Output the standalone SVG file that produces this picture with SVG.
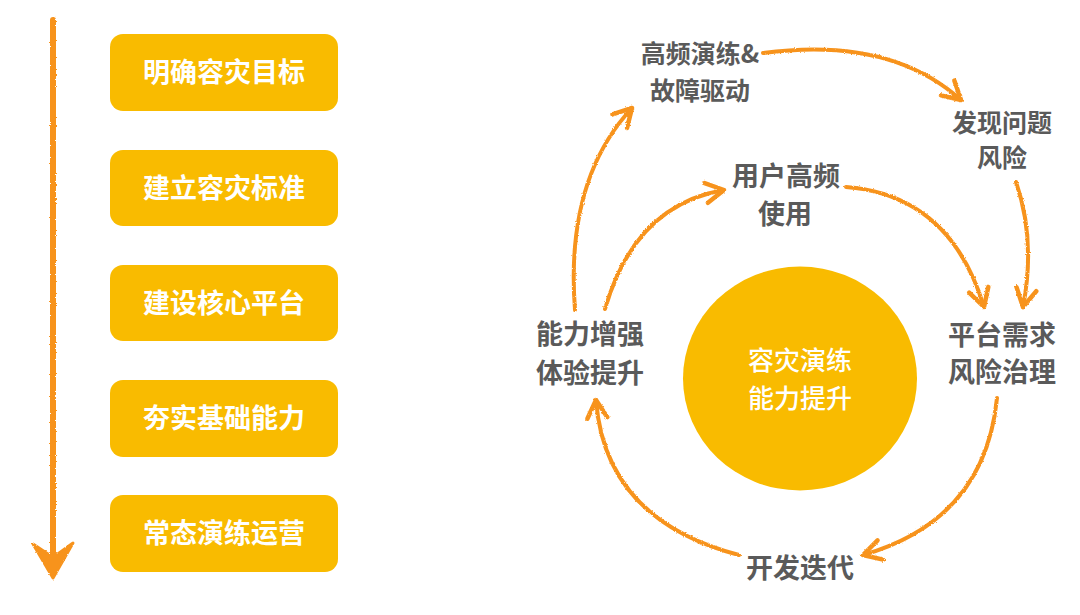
<svg xmlns="http://www.w3.org/2000/svg" width="1080" height="615" viewBox="0 0 1080 615">
  <defs>
    <style>
      .box { fill: #F9BB00; }
      .btxt { font-family: "Noto Sans CJK SC", "Noto Sans", sans-serif; font-weight: 700; font-size: 27px; fill: #FFFFFF; text-anchor: middle; }
      .lbl { font-family: "Noto Sans CJK SC", "Noto Sans", sans-serif; font-weight: 700; fill: #5A5A5A; text-anchor: middle; }
      .l27 { font-size: 27px; }
      .l25 { font-size: 25px; }
      .ctxt { font-family: "Noto Sans CJK SC", "Noto Sans", sans-serif; font-weight: 500; font-size: 26px; fill: #FFFFFF; text-anchor: middle; }
      .arr { fill: none; stroke: #F7931E; stroke-width: 4; stroke-linecap: round; stroke-linejoin: round; marker-end: url(#head); }
    </style>
    <filter id="chalk" x="-10%" y="-10%" width="120%" height="120%">
      <feTurbulence type="fractalNoise" baseFrequency="0.9" numOctaves="2" seed="3" result="n"/>
      <feDisplacementMap in="SourceGraphic" in2="n" scale="2.5" xChannelSelector="R" yChannelSelector="G"/>
    </filter>
    <marker id="head" markerUnits="userSpaceOnUse" markerWidth="30" markerHeight="30" viewBox="-22 -15 26 30" refX="0" refY="0" orient="auto">
      <path d="M -18 -10 L 0 0 L -18 10" fill="none" stroke="#F7931E" stroke-width="4.5" stroke-linecap="round" stroke-linejoin="round"/>
    </marker>
  </defs>
  <rect width="1080" height="615" fill="#FFFFFF"/>

  <!-- left timeline arrow -->
  <g id="timeline" filter="url(#chalk)">
    <line x1="53" y1="20" x2="53" y2="570" stroke="#F7931E" stroke-width="6" stroke-linecap="round"/>
    <polygon points="33,544 53,578 73,543 55,556 51,556" fill="#F7931E" stroke="#F7931E" stroke-width="3" stroke-linejoin="round"/>
  </g>

  <!-- left steps -->
  <g id="step1"><rect class="box" x="110" y="34" width="228" height="77" rx="13"/><text class="btxt" x="224" y="82">明确容灾目标</text></g>
  <g id="step2"><rect class="box" x="110" y="150" width="228" height="76" rx="13"/><text class="btxt" x="224" y="197.5">建立容灾标准</text></g>
  <g id="step3"><rect class="box" x="110" y="265" width="228" height="76" rx="13"/><text class="btxt" x="224" y="312.5">建设核心平台</text></g>
  <g id="step4"><rect class="box" x="110" y="380" width="228" height="77" rx="13"/><text class="btxt" x="224" y="428">夯实基础能力</text></g>
  <g id="step5"><rect class="box" x="110" y="495" width="228" height="77" rx="13"/><text class="btxt" x="224" y="543">常态演练运营</text></g>

  <!-- center -->
  <g id="center">
    <ellipse cx="800" cy="378.5" rx="117" ry="112" fill="#F9BB00"/>
    <text class="ctxt" x="800" y="369.5">容灾演练</text>
    <text class="ctxt" x="800" y="408">能力提升</text>
  </g>

  <!-- cycle labels -->
  <g id="drill"><text class="lbl l25" x="700" y="63">高频演练&amp;</text><text class="lbl l25" x="700" y="100">故障驱动</text></g>
  <g id="discover"><text class="lbl l25" x="1002" y="132">发现问题</text><text class="lbl l25" x="1002" y="167">风险</text></g>
  <g id="user"><text class="lbl l27" x="786" y="186">用户高频</text><text class="lbl l27" x="785" y="224">使用</text></g>
  <g id="platform"><text class="lbl l27" x="1002" y="344.5">平台需求</text><text class="lbl l27" x="1002" y="382">风险治理</text></g>
  <g id="ability"><text class="lbl l27" x="590" y="344">能力增强</text><text class="lbl l27" x="590" y="382.5">体验提升</text></g>
  <g id="dev"><text class="lbl l27" x="800" y="578">开发迭代</text></g>

  <!-- connectors -->
  <g id="connectors" filter="url(#chalk)">
    <path class="arr" d="M 763 53 Q 890 36 961 100"/>
    <path class="arr" d="M 1016 182 Q 1036 240 1023 307"/>
    <path class="arr" d="M 846 187 Q 950 195 984 307"/>
    <path class="arr" d="M 997 398 Q 985 520 863 555"/>
    <path class="arr" d="M 739 555 Q 605 520 596 400"/>
    <path class="arr" d="M 575 310 Q 565 180 632 108"/>
    <path class="arr" d="M 605 309 Q 635 205 724 190"/>
  </g>
</svg>
